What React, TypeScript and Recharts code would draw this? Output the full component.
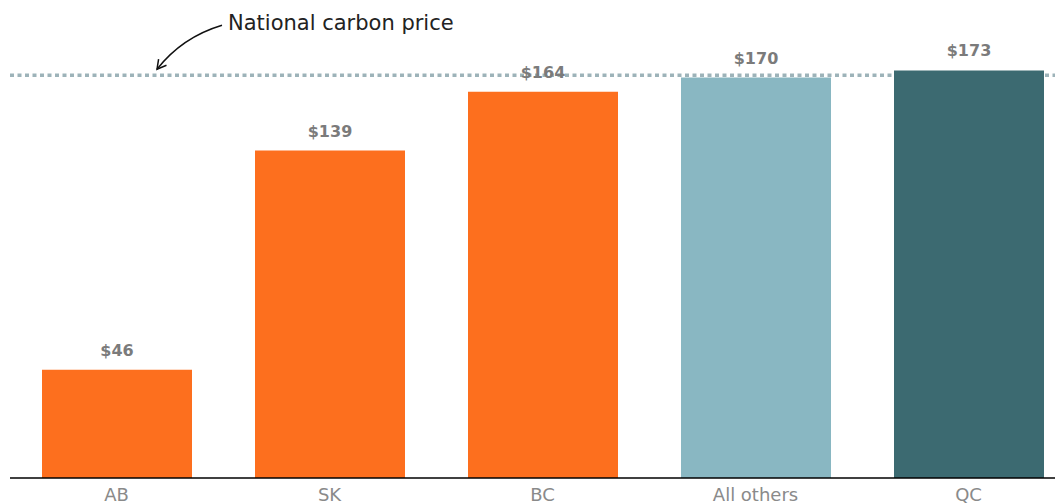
import React from "react";
import { BarChart, Bar, XAxis, YAxis, Cell, LabelList, ReferenceLine } from "recharts";

const regions = ["AB", "SK", "BC", "All others", "QC"];
const prices = [46, 139, 164, 170, 173];
const nationalPrice = 171;
const barColors = ["#fd6f1e", "#fd6f1e", "#fd6f1e", "#89b7c2", "#3c6a71"];

const data = regions.map((region, i) => ({ region, price: prices[i] }));

const FONT = "'DejaVu Sans', sans-serif";

// arrow + caption drawn relative to the reference line position
const NationalLabel = (props: any) => {
  const { x, y } = props.viewBox;
  const tipX = x + 147;
  const tipY = y - 6;
  return (
    <g>
      <defs>
        <marker id="arrowHead" markerWidth="12" markerHeight="12" refX="10" refY="6" orient="auto" markerUnits="userSpaceOnUse">
          <path d="M1,1 L10,6 L1,11" fill="none" stroke="#111" strokeWidth={1.5} />
        </marker>
      </defs>
      <path
        d={`M${x + 212},${y - 50} Q${x + 172},${y - 38} ${tipX},${tipY}`}
        fill="none"
        stroke="#111"
        strokeWidth={1.5}
        markerEnd="url(#arrowHead)"
      />
      <text x={x + 218} y={y - 45} fill="#222" fontSize={21} fontFamily={FONT}>
        National carbon price
      </text>
    </g>
  );
};

export default function App() {
  return (
    <div style={{ width: 1055, height: 496, overflow: "hidden", marginRight: -8 }}>
      <BarChart width={1067} height={500} data={data} margin={{ top: 46, right: 0, left: 2, bottom: 0 }}>
        <YAxis hide domain={[0, 180]} />
        <XAxis
          dataKey="region"
          height={30}
          tickLine={false}
          tickMargin={4}
          axisLine={{ stroke: "#000", strokeWidth: 1.5 }}
          tick={{ fill: "#8a8a8a", fontSize: 18, fontFamily: FONT }}
        />
        <ReferenceLine
          y={nationalPrice}
          stroke="#9db3b9"
          strokeWidth={3.5}
          strokeDasharray="4 3.5"
          zIndex={-100}
          label={<NationalLabel />}
        />
        <Bar dataKey="price" barSize={150} isAnimationActive={false}>
          {data.map((d, i) => (
            <Cell key={d.region} fill={barColors[i]} />
          ))}
          <LabelList
            dataKey="price"
            position="top"
            offset={14}
            formatter={(v: any) => `$${v}`}
            style={{ fill: "#7b7b7b", fontSize: 16, fontWeight: 700, fontFamily: FONT }}
          />
        </Bar>
      </BarChart>
    </div>
  );
}
